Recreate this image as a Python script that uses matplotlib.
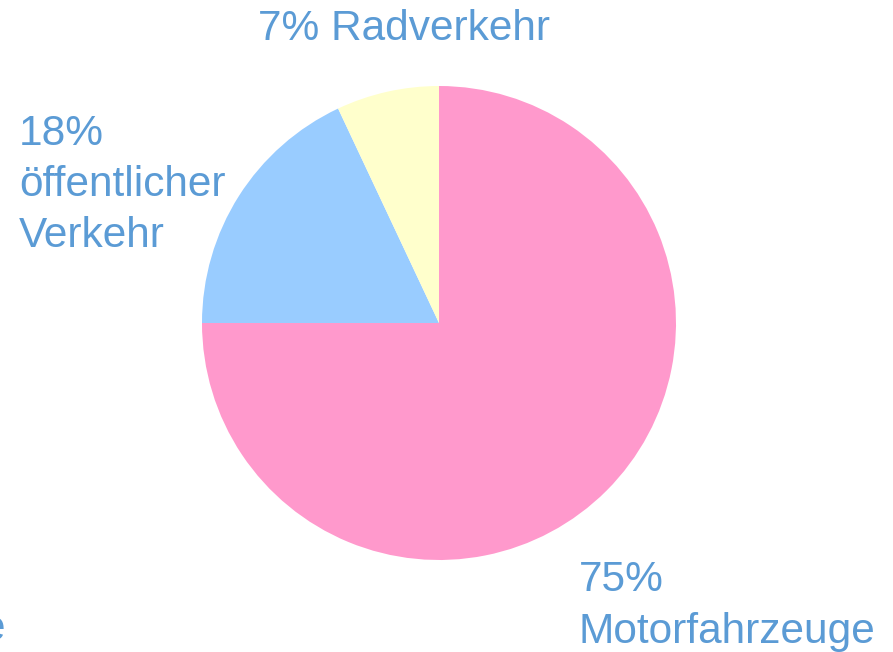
import matplotlib
matplotlib.use("Agg")
import matplotlib.pyplot as plt

# Modal split shares (percent), clockwise from 12 o'clock
categories = ["Motorfahrzeuge", "öffentlicher\nVerkehr", "Radverkehr"]
shares = [75, 18, 7]
colors = ["#FF99CC", "#99CCFF", "#FFFFCC"]

TEXT_COLOR = "#5B9BD5"
W, H = 893, 652

plt.rcParams["font.family"] = ["Liberation Sans", "DejaVu Sans"]

fig = plt.figure(figsize=(W / 100, H / 100), dpi=100)
ax = fig.add_axes([0, 0, 1, 1])
ax.pie(shares, colors=colors, startangle=90, counterclock=False,
       center=(439, H - 323), radius=237, frame=True)
ax.set_xlim(0, W)
ax.set_ylim(0, H)
ax.axis("off")

fs = 30.5
ls = 1.36
# Motorfahrzeuge (bottom right)
ax.text(579, H - 606, f"{shares[0]}%\n{categories[0]}", color=TEXT_COLOR,
        fontsize=fs, ha="left", va="center", linespacing=ls)
# oeffentlicher Verkehr (upper left)
ax.text(19, H - 185, f"{shares[1]}%\n{categories[1]}", color=TEXT_COLOR,
        fontsize=fs, ha="left", va="center", linespacing=ls)
# Radverkehr (top)
ax.text(404, H - 29, f"{shares[2]}% {categories[2]}", color=TEXT_COLOR,
        fontsize=fs, ha="center", va="center")
# label cut off at the left edge, as in the reference
ax.text(5, H - 629, "e", color=TEXT_COLOR, fontsize=fs, ha="right", va="center")

fig.savefig("out.png", dpi=100)
